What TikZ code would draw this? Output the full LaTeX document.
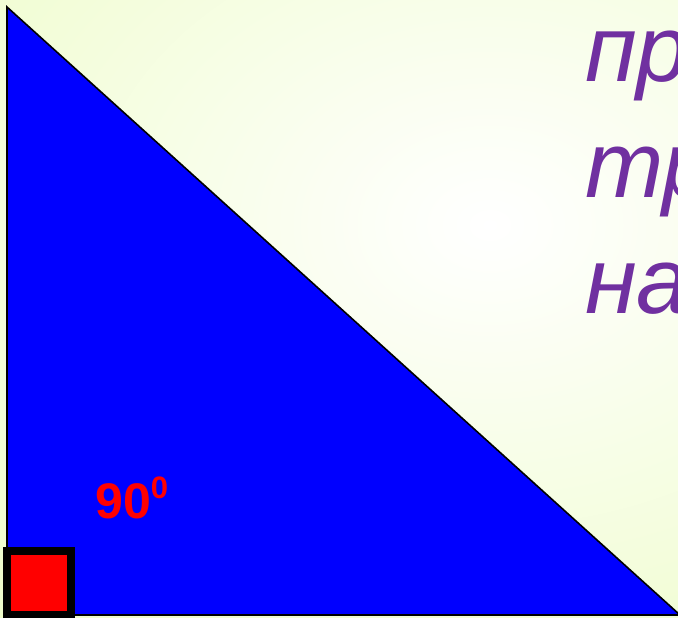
\documentclass[tikz,border=0pt]{standalone}
\usepackage{fontspec}
\setmainfont{Liberation Sans}
\usetikzlibrary{positioning}
\definecolor{bgedge}{RGB}{236,252,196}
\definecolor{txtpurple}{RGB}{112,48,160}

\begin{document}
\begin{tikzpicture}[
  x=1pt, y=-1pt,
  leg/.style   = {draw=black, line width=1.6pt, fill=blue, line join=miter},
  rightsq/.style = {draw=black, fill=red, line width=8pt, minimum size=64pt, inner sep=0pt},
  anglbl/.style  = {text=red, font=\bfseries, anchor=base west, inner sep=0pt},
  titlelbl/.style = {text=txtpurple, font=\itshape, anchor=base west, inner sep=0pt},
]
\useasboundingbox (0,0) rectangle (678,618);
\clip (0,0) rectangle (678,618);
% background
\fill[bgedge] (0,0) rectangle (678,618);
\fill[inner color=white, outer color=bgedge] (490,225) ellipse (800 and 600);
% triangle
\coordinate (A) at (7,7);
\coordinate (C) at (7,615);
\coordinate (B) at (680,615);
\filldraw[leg] (A) -- (C) -- (B) -- cycle;
% right angle mark
\node[rightsq] (sq) at (39,583) {};
\node[anglbl] (ang) at (95,518) {\fontsize{50}{50}\selectfont 90\raisebox{20pt}{\fontsize{31}{31}\selectfont 0}};
% text on the right
\node[titlelbl] (l1) at (585,82)  {\fontsize{94}{94}\selectfont пр};
\node[titlelbl] (l2) at (585,197) {\fontsize{94}{94}\selectfont тр};
\node[titlelbl] (l3) at (585,313) {\fontsize{94}{94}\selectfont на};
\end{tikzpicture}
\end{document}
